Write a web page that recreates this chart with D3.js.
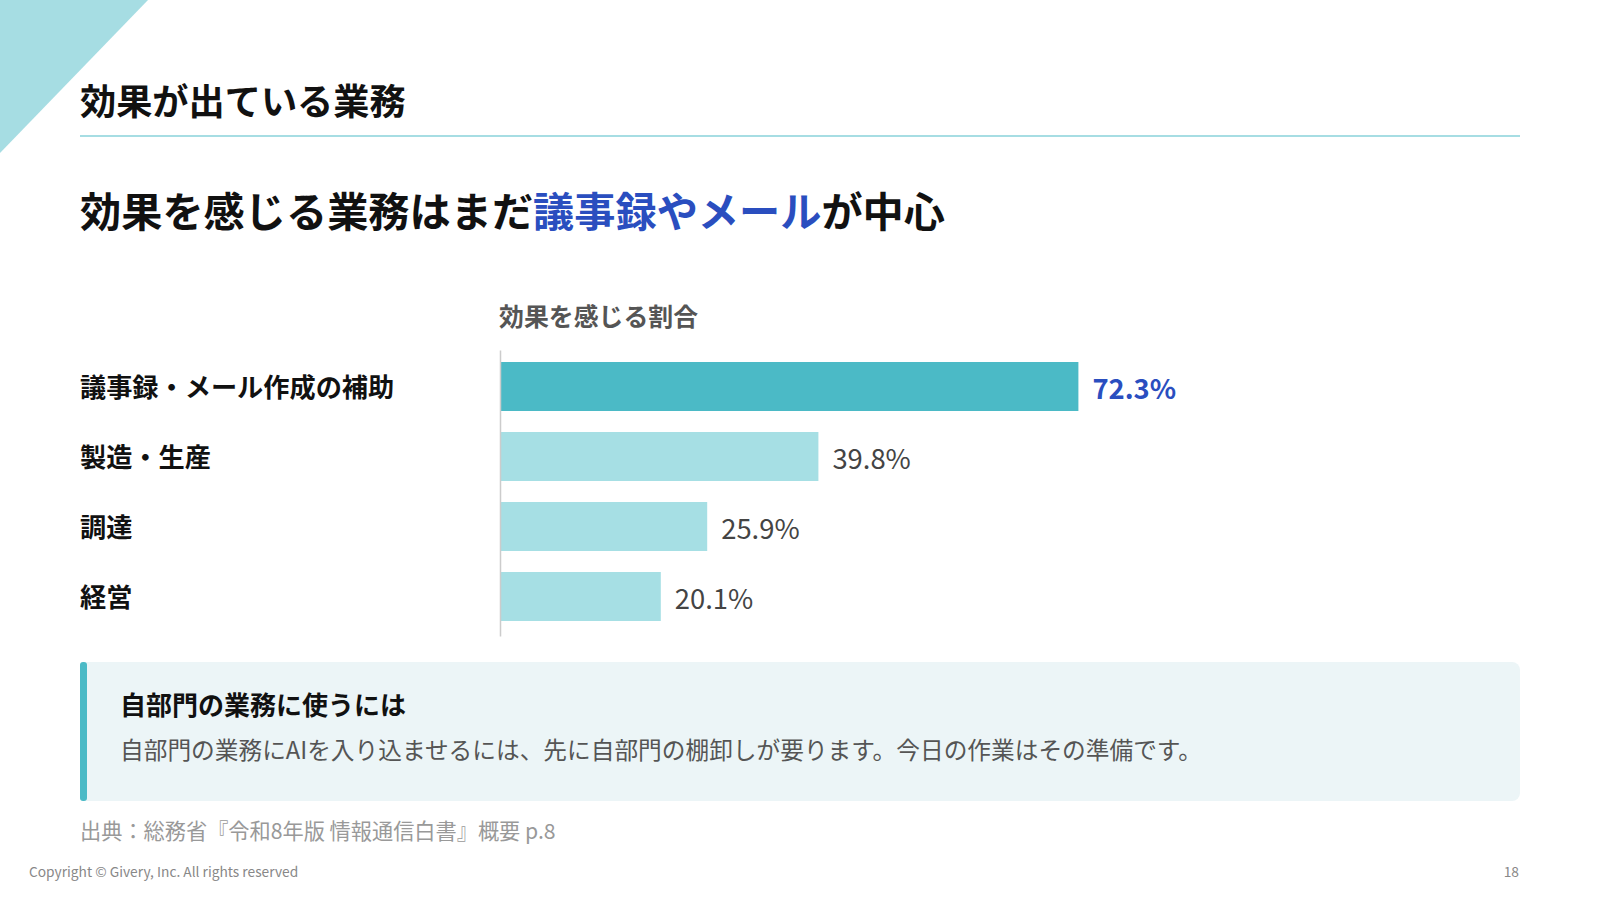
<!DOCTYPE html>
<html><head><meta charset="utf-8">
<script src="https://cdn.jsdelivr.net/npm/d3@7"></script>
<style>
html,body{margin:0;padding:0;background:#fff;}
svg{display:block;font-family:"Noto Sans CJK JP","Noto Sans",sans-serif;}
</style></head>
<body><svg id="c" width="1600" height="900"></svg>
<script>
const categories = ["議事録・メール作成の補助", "製造・生産", "調達", "経営"];
const values = [72.3, 39.8, 25.9, 20.1];
const valueLabels = ["72.3%", "39.8%", "25.9%", "20.1%"];
const highlight = [true, false, false, false];

const svg = d3.select("#c");

// corner triangle
svg.append("path").attr("d", "M0,0 L148,0 L0,153 Z").attr("fill", "#a6dde3");

// title
svg.append("text").attr("x", 80).attr("y", 99).attr("dominant-baseline", "central")
  .attr("font-size", 36.2).attr("font-weight", 700).attr("fill", "#111").text("効果が出ている業務");
svg.append("rect").attr("x", 80).attr("y", 135).attr("width", 1440).attr("height", 2).attr("fill", "#a6dde3");

// headline
const h = svg.append("text").attr("x", 80).attr("y", 209).attr("dominant-baseline", "central")
  .attr("font-size", 41.2).attr("font-weight", 700).attr("fill", "#111");
h.append("tspan").text("効果を感じる業務はまだ");
h.append("tspan").attr("fill", "#2a4ebf").text("議事録やメール");
h.append("tspan").text("が中心");

// chart
const x = d3.scaleLinear().domain([0, 100]).range([500, 1300]);
const y = d3.scaleBand().domain(categories).range([351.5, 631.5]).paddingInner(0.3).paddingOuter(0.15);

svg.append("text").attr("x", 499).attr("y", 315).attr("dominant-baseline", "central")
  .attr("font-size", 24.9).attr("font-weight", 700).attr("fill", "#555").text("効果を感じる割合");

const data = categories.map((c, i) => ({c, v: values[i], l: valueLabels[i], h: highlight[i]}));

svg.selectAll("rect.bar").data(data).join("rect").attr("class", "bar")
  .attr("x", x(0)).attr("y", d => y(d.c))
  .attr("width", d => x(d.v) - x(0)).attr("height", y.bandwidth())
  .attr("fill", d => d.h ? "#4bbac6" : "#a6dfe4");

const axis = svg.append("g").attr("transform", `translate(${x(0)},0)`)
  .call(d3.axisLeft(d3.scaleLinear().range([350, 636])).ticks(0).tickSize(0).tickSizeOuter(0));
axis.select(".domain").attr("stroke", "#cccccc").attr("stroke-width", 1.5);
axis.selectAll(".tick").remove();

svg.selectAll("text.cat").data(data).join("text").attr("class", "cat")
  .attr("x", 80).attr("y", d => y(d.c) + y.bandwidth() / 2 - 1).attr("dominant-baseline", "central")
  .attr("font-size", 26.2).attr("font-weight", 700).attr("fill", "#111").text(d => d.c);

svg.selectAll("text.val").data(data).join("text").attr("class", "val")
  .attr("x", d => x(d.v) + 14).attr("y", d => y(d.c) + y.bandwidth() / 2).attr("dominant-baseline", "central")
  .attr("font-size", 27.4).attr("font-weight", d => d.h ? 700 : 400)
  .attr("fill", d => d.h ? "#2a4ebf" : "#444").text(d => d.l);

// callout
svg.append("rect").attr("x", 80).attr("y", 662).attr("width", 1440).attr("height", 139)
  .attr("rx", 8).attr("fill", "#ecf5f7");
svg.append("rect").attr("x", 80).attr("y", 662).attr("width", 7).attr("height", 139)
  .attr("rx", 3).attr("fill", "#4bbac6");
svg.append("text").attr("x", 120).attr("y", 703).attr("dominant-baseline", "central")
  .attr("font-size", 26).attr("font-weight", 700).attr("fill", "#111").text("自部門の業務に使うには");
svg.append("text").attr("x", 120).attr("y", 749).attr("dominant-baseline", "central")
  .attr("font-size", 23.7).attr("font-weight", 400).attr("fill", "#555")
  .text("自部門の業務にAIを入り込ませるには、先に自部門の棚卸しが要ります。今日の作業はその準備です。");

// source & footer
svg.append("text").attr("x", 80).attr("y", 829).attr("dominant-baseline", "central")
  .attr("font-size", 21.2).attr("fill", "#999").text("出典：総務省『令和8年版 情報通信白書』概要 p.8");
svg.append("text").attr("x", 29).attr("y", 871).attr("dominant-baseline", "central")
  .attr("font-size", 13.75).attr("fill", "#888").text("Copyright © Givery, Inc. All rights reserved");
svg.append("text").attr("x", 1519).attr("y", 871).attr("dominant-baseline", "central").attr("text-anchor", "end")
  .attr("font-size", 13.75).attr("fill", "#888").text("18");
</script></body></html>
